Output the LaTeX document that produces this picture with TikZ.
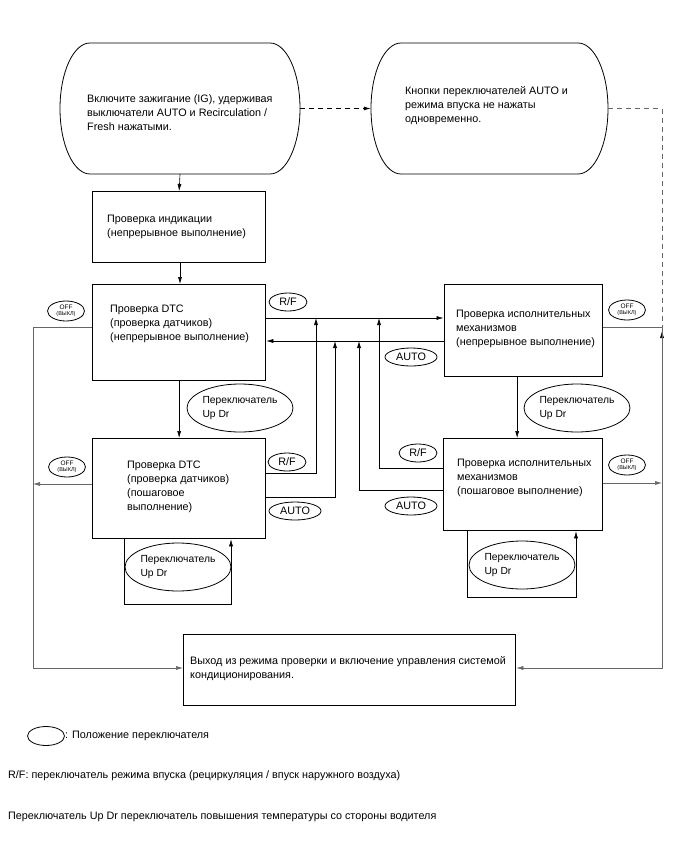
\documentclass[tikz,border=0pt]{standalone}
\usepackage{fontspec}
\setmainfont{Liberation Sans}
\usetikzlibrary{arrows.meta,shapes.geometric}
\begin{document}
\begin{tikzpicture}[x=1pt,y=-1pt,
  arr/.style={-{Latex[length=7pt,width=4pt]}},
  conn/.style={line width=0.6pt},
  offline/.style={line width=0.6pt,draw=black!60},
  box/.style={draw,line width=1.3pt,rectangle,inner sep=0pt,anchor=north west},
  txt/.style={anchor=west,align=left,inner sep=0pt,font=\fontsize{10.8}{14}\selectfont},
  sw/.style={draw,ellipse,inner sep=0pt,line width=0.8pt,font=\fontsize{10.8}{14}\selectfont},
  upd/.style={sw,minimum width=104pt,minimum height=48pt,align=left,font=\fontsize{10.3}{14}\selectfont},
  rf/.style={sw,minimum width=38pt,minimum height=18pt},
  au/.style={sw,minimum width=52pt,minimum height=18pt},
  off/.style={sw,minimum width=37pt,minimum height=20pt,align=center,font=\fontsize{6.5}{6.5}\selectfont},
  stad/.style={line width=0.8pt}
]
\useasboundingbox (0,0) rectangle (691,855);

% start shapes
\node[minimum width=240pt,minimum height=131pt,inner sep=0pt] (s1) at (180,108.5) {};
\node[minimum width=237pt,minimum height=131pt,inner sep=0pt] (s2) at (489.5,108.5) {};
\draw[stad] (90,43) -- (270,43) arc[start angle=-90,end angle=90,x radius=30,y radius=65.5] -- (90,174) arc[start angle=90,end angle=270,x radius=30,y radius=65.5] -- cycle;
\draw[stad] (401,43) -- (578,43) arc[start angle=-90,end angle=90,x radius=30,y radius=65.5] -- (401,174) arc[start angle=90,end angle=270,x radius=30,y radius=65.5] -- cycle;
\node[txt] (t1) at (87,113) {Включите зажигание (IG), удерживая\\выключатели AUTO и Recirculation /\\Fresh нажатыми.};
\node[txt] (t2) at (405,106) {Кнопки переключателей AUTO и\\режима впуска не нажаты\\одновременно.};

% boxes
\node[box,minimum width=173pt,minimum height=71pt] (ind) at (92,191) {};
\node[box,minimum width=173pt,minimum height=96pt] (dtc1) at (92,284) {};
\node[box,minimum width=173pt,minimum height=100pt] (dtc2) at (92,438) {};
\node[box,minimum width=158pt,minimum height=92pt] (act1) at (443.5,284) {};
\node[box,minimum width=159pt,minimum height=92pt] (act2) at (443,438) {};
\node[box,minimum width=332pt,minimum height=71pt] (exit) at (183,634) {};

\node[txt] (tind) at (107,226.5) {Проверка индикации\\(непрерывное выполнение)};
\node[txt] (tdtc1) at (110,323.5) {Проверка DTC\\(проверка датчиков)\\(непрерывное выполнение)};
\node[txt] (tdtc2) at (127,487) {Проверка DTC\\(проверка датчиков)\\(пошаговое\\выполнение)};
\node[txt] (tact1) at (456,328.5) {Проверка исполнительных\\механизмов\\(непрерывное выполнение)};
\node[txt] (tact2) at (457,478) {Проверка исполнительных\\механизмов\\(пошаговое выполнение)};
\node[txt] (texit) at (190,668.5) {Выход из режима проверки и включение управления системой\\кондиционирования.};

% switch ellipses
\node[upd] (u1) at (240,408) {Переключатель\\Up Dr};
\node[upd] (u2) at (577,408) {Переключатель\\Up Dr};
\node[upd] (u3) at (178,567) {Переключатель\\Up Dr};
\node[upd] (u4) at (522,565) {Переключатель\\Up Dr};
\node[rf] (rf1) at (288,302) {R/F};
\node[rf] (rf2) at (287,462) {R/F};
\node[rf] (rf3) at (418,453) {R/F};
\node[au] (au1) at (411,357) {AUTO};
\node[au] (au2) at (295,511) {AUTO};
\node[au] (au3) at (411,506) {AUTO};
\node[off] (o1) at (66,311) {OFF\\{\fontsize{5.5}{5.5}\selectfont(ВЫКЛ)}};
\node[off] (o2) at (67,467) {OFF\\{\fontsize{5.5}{5.5}\selectfont(ВЫКЛ)}};
\node[off] (o3) at (627,310) {OFF\\{\fontsize{5.5}{5.5}\selectfont(ВЫКЛ)}};
\node[off] (o4) at (627,465) {OFF\\{\fontsize{5.5}{5.5}\selectfont(ВЫКЛ)}};

% helper coordinates
\coordinate (yRF) at (0,318);
\coordinate (yAU) at (0,341);
\coordinate (yO1) at (0,327);
\coordinate (yO2) at (0,484);
\coordinate (yO3) at (0,483);
\coordinate (cL) at (33,668);
\coordinate (cR) at (662,668);
\coordinate (d2rf) at (316,473);
\coordinate (d2au) at (335,497);
\coordinate (a2au) at (359,490);
\coordinate (a2rf) at (379,468);
\coordinate (l1a) at (124,604);
\coordinate (l1b) at (231,604);
\coordinate (l2a) at (467,597);
\coordinate (l2b) at (576,597);

% connectors
\draw[conn,arr] (s1.south) -- (ind.north);
\draw[conn,arr] (ind.south -| s1.south) -- (dtc1.north -| s1.south);
\draw[conn,arr] (dtc1.south) -- (dtc2.north);
\draw[conn,arr] ([xshift=-6pt]act1.south) -- ([xshift=-6pt]act2.north);
\draw[conn,arr,dash pattern=on 5pt off 4pt] (s1.east) -- (s2.west);
\draw[conn,dash pattern=on 5pt off 4pt,draw=black!60] (s2.east) -| ([yshift=-12pt]cR |- yO1);
\draw[conn,arr] ([yshift=-12pt]cR |- yO1) -- ([yshift=-4pt]cR |- yO1);

\draw[conn,arr] (dtc1.east |- yRF) -- (act1.west |- yRF);
\draw[conn,arr] (act1.west |- yAU) -- (dtc1.east |- yAU);
\draw[conn,arr] (dtc2.east |- d2rf) -- (d2rf) -- (d2rf |- yRF);
\draw[conn,arr] (dtc2.east |- d2au) -- (d2au) -- (d2au |- yAU);
\draw[conn,arr] (act2.west |- a2au) -- (a2au) -- (a2au |- yAU);
\draw[conn,arr] (act2.west |- a2rf) -- (a2rf) -- (a2rf |- yRF);

\draw[conn,arr] (dtc2.south -| l1a) -- (l1a) -- (l1b) -- (dtc2.south -| l1b);
\draw[conn,arr] (act2.south -| l2a) -- (l2a) -- (l2b) -- (act2.south -| l2b);

\draw[offline,arr] (dtc1.west |- yO1) -- (cL |- yO1) -- (cL) -- (exit.west |- cL);
\draw[offline,arr] (dtc2.west |- yO2) -- (cL |- yO2);
\draw[offline,arr] (act1.east |- yO1) -- (cR |- yO1) -- (cR) -- (exit.east |- cR);
\draw[offline,arr] (act2.east |- yO3) -- (cR |- yO3);

% legend
\node[sw,minimum width=37pt,minimum height=19pt] (leg) at (46,736) {};
\node[txt] (lt1) at (leg.east) {: Положение переключателя};
\node[txt] (lt2) at (8,776) {R/F: переключатель режима впуска (рециркуляция / впуск наружного воздуха)};
\node[txt] (lt3) at (8,817) {Переключатель Up Dr переключатель повышения температуры со стороны водителя};
\end{tikzpicture}
\end{document}
